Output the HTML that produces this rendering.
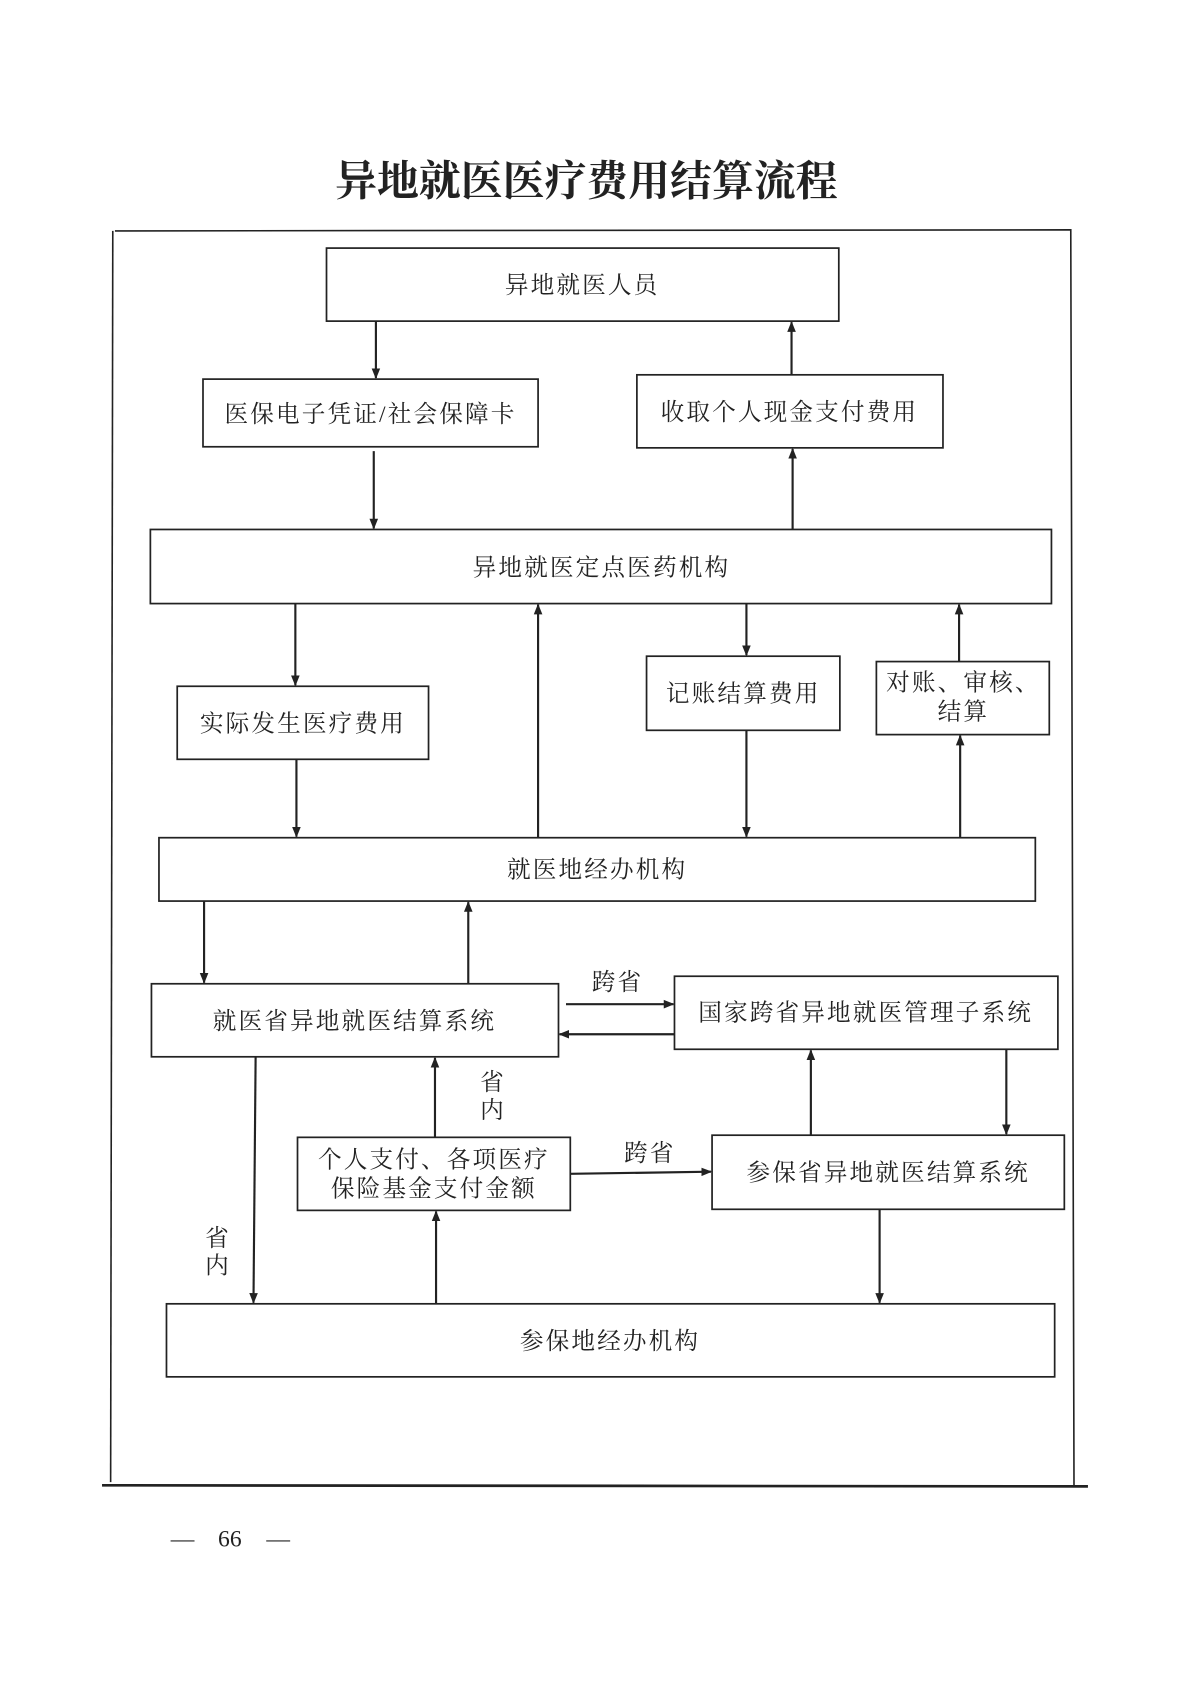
<!DOCTYPE html>
<html><head><meta charset="utf-8"><style>
html,body{margin:0;padding:0;background:#fff;}
svg{display:block;}
text{font-family:"Liberation Serif","Noto Serif CJK SC",serif;fill:#222;}
</style></head><body>
<svg width="1190" height="1684" viewBox="0 0 1108 1568" xmlns="http://www.w3.org/2000/svg">
<defs><marker id="a" markerWidth="10" markerHeight="10" refX="9" refY="5" orient="auto" markerUnits="userSpaceOnUse"><path d="M0,1 L10,5 L0,9 Z" fill="#222"/></marker></defs>
<text x="546" y="182" font-size="39" font-weight="bold" text-anchor="middle" style="font-family:'Noto Serif CJK SC',serif">异地就医医疗费用结算流程</text>
<g stroke="#222" fill="none">
<path d="M107 215 L997 214 L1000 1383" stroke-width="1.5"/>
<path d="M105 215 L103 1380" stroke-width="1.5"/>
<path d="M95 1383 L1013 1384" stroke-width="2.5"/>
<g stroke-width="1.6" fill="#fff">
<rect x="304" y="231" width="477" height="68"/>
<rect x="189" y="353" width="312" height="63"/>
<rect x="593" y="349" width="285" height="68"/>
<rect x="140" y="493" width="839" height="69"/>
<rect x="165" y="639" width="234" height="68"/>
<rect x="602" y="611" width="180" height="69"/>
<rect x="816" y="616" width="161" height="68"/>
<rect x="148" y="780" width="816" height="59"/>
<rect x="141" y="916" width="379" height="68"/>
<rect x="628" y="909" width="357" height="68"/>
<rect x="277" y="1059" width="254" height="68"/>
<rect x="663" y="1057" width="328" height="69"/>
<rect x="155" y="1214" width="827" height="68"/>
</g>
<g stroke-width="2" marker-end="url(#a)">
<path d="M350 299 V352"/><path d="M737 349 V300"/>
<path d="M348 420 V492"/><path d="M738 493 V418"/>
<path d="M275 562 V638"/><path d="M501 780 V563"/>
<path d="M695 562 V610"/><path d="M893 616 V563"/>
<path d="M894 780 V685"/><path d="M276 707 V779"/>
<path d="M695 680 V779"/><path d="M190 839 V915"/>
<path d="M436 916 V840"/>
<path d="M527 935 H627"/><path d="M628 963 H521"/>
<path d="M238 984 L236 1213"/><path d="M405 1059 V985"/>
<path d="M531 1093 L662 1091"/>
<path d="M755 1057 V978"/><path d="M937 977 V1056"/>
<path d="M406 1214 V1128"/><path d="M819 1126 V1213"/>
</g>
</g>
<g font-size="22" text-anchor="middle" letter-spacing="2">
<text x="542" y="273">异地就医人员</text>
<text x="345" y="393">医保电子凭证/社会保障卡</text>
<text x="735" y="391">收取个人现金支付费用</text>
<text x="560" y="536">异地就医定点医药机构</text>
<text x="282" y="681">实际发生医疗费用</text>
<text x="692" y="653">记账结算费用</text>
<text x="897" y="643">对账、审核、</text>
<text x="897" y="670">结算</text>
<text x="556" y="817">就医地经办机构</text>
<text x="330" y="958">就医省异地就医结算系统</text>
<text x="806" y="950">国家跨省异地就医管理子系统</text>
<text x="404" y="1087">个人支付、各项医疗</text>
<text x="404" y="1114">保险基金支付金额</text>
<text x="827" y="1099">参保省异地就医结算系统</text>
<text x="568" y="1256">参保地经办机构</text>
<text x="575" y="922">跨省</text>
<text x="605" y="1081">跨省</text>
<text x="459" y="1015">省</text>
<text x="459" y="1041">内</text>
<text x="203" y="1160">省</text>
<text x="203" y="1186">内</text>
</g>
<g font-size="22" text-anchor="middle">
<text x="170" y="1440">—</text>
<text x="214" y="1440">66</text>
<text x="259" y="1440">—</text>
</g>
</svg>
</body></html>
